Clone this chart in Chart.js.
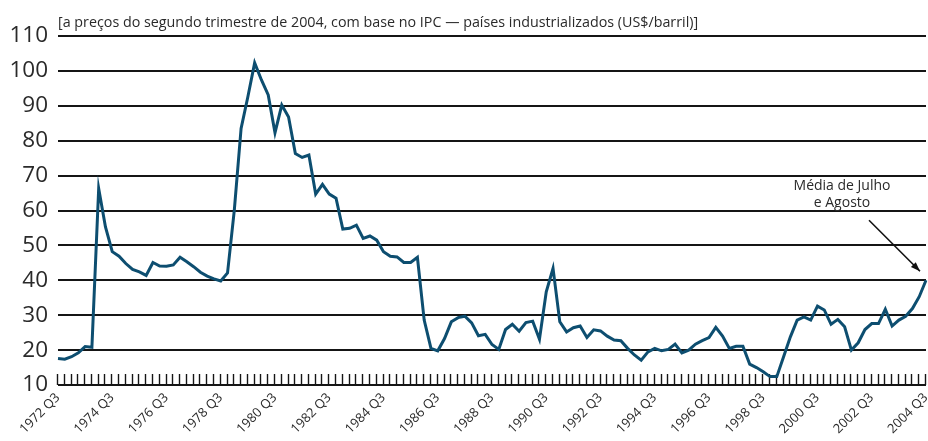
<!DOCTYPE html>
<html>
<head>
<meta charset="utf-8">
<script src="https://cdn.jsdelivr.net/npm/chart.js@4"></script>
<style>
    body { margin: 0; background: #fff; }
    #wrap { width: 928px; height: 441px; }
</style>
</head>
<body>
<div id="wrap"><canvas id="chart1" width="928" height="441"></canvas></div>
<script>
const startYear = 1972;
const endYear = 2004;
const labelEvery = 8;
const titleText = '[a preços do segundo trimestre de 2004, com base no IPC \u2014 países industrializados (US$/barril)]';
const noteLines = ['Média de Julho', 'e Agosto'];
const yTicks = [10, 20, 30, 40, 50, 60, 70, 80, 90, 100, 110];

// quarters 1972 Q3 .. 2004 Q3
const quarters = [];
for (let y = startYear; y <= endYear; y++) {
    for (let q = 1; q <= 4; q++) {
        if (y === startYear && q < 3) continue;
        if (y === endYear && q > 3) continue;
        quarters.push(y + ' Q' + q);
    }
}

const oilPrice = [
    17.6, 17.4, 18.1, 19.2, 21.0, 20.8, 66.3, 55.3, 48.2, 46.9,
    44.8, 43.1, 42.4, 41.4, 45.1, 44.1, 44.0, 44.4, 46.6, 45.3,
    43.9, 42.3, 41.2, 40.4, 39.8, 42.1, 60.1, 83.5, 92.6, 102.3,
    97.4, 93.1, 82.3, 90.2, 86.8, 76.3, 75.2, 75.9, 64.7, 67.5,
    64.7, 63.5, 54.7, 54.9, 55.8, 52.0, 52.7, 51.5, 48.2, 46.9,
    46.7, 45.1, 45.1, 46.6, 28.6, 20.5, 19.8, 23.3, 28.1, 29.3,
    29.7, 27.8, 24.1, 24.5, 21.6, 20.2, 25.9, 27.4, 25.4, 27.9,
    28.3, 23.1, 36.7, 43.4, 28.1, 25.2, 26.4, 26.9, 23.6, 25.8,
    25.5, 24.0, 22.9, 22.7, 20.5, 18.6, 17.1, 19.5, 20.5, 19.8,
    20.2, 21.7, 19.2, 20.0, 21.7, 22.7, 23.6, 26.5, 24.0, 20.5,
    21.1, 21.1, 16.0, 15.0, 13.8, 12.4, 12.4, 18.1, 23.8, 28.6,
    29.5, 28.6, 32.6, 31.5, 27.4, 28.8, 26.7, 20.0, 22.1, 25.9,
    27.6, 27.6, 31.7, 26.9, 28.6, 29.7, 31.9, 35.3, 40.0
];

const lineColor = '#0d4e70';
const gridColor = '#151515';
const textColor = '#2a2a2a';
const fontFamily = '"Open Sans", "Liberation Sans", sans-serif';

const extrasPlugin = {
    id: 'extras',
    beforeDatasetsDraw(chart) {
        const ctx = chart.ctx;
        const x = chart.scales.x;
        const area = chart.chartArea;
        ctx.save();
        ctx.strokeStyle = gridColor;
        ctx.lineWidth = 1.4;
        quarters.forEach((q, i) => {
            const px = Math.round(x.getPixelForValue(i)) - 0.5;
            ctx.beginPath();
            ctx.moveTo(px, area.bottom - 11);
            ctx.lineTo(px, area.bottom);
            ctx.stroke();
        });
        ctx.restore();
    },
    afterDraw(chart) {
        const ctx = chart.ctx;
        const area = chart.chartArea;
        ctx.save();
        ctx.fillStyle = textColor;
        ctx.font = '14.3px ' + fontFamily;
        ctx.textBaseline = 'alphabetic';
        ctx.textAlign = 'left';
        ctx.fillText(titleText, area.left, area.top - 9);

        // annotation pointing at the last point
        const meta = chart.getDatasetMeta(0);
        const last = meta.data[meta.data.length - 1];
        const x0 = last.x - 57, y0 = last.y - 60;
        const x1 = last.x - 6, y1 = last.y - 9;
        ctx.font = '14px ' + fontFamily;
        ctx.textAlign = 'center';
        ctx.fillText(noteLines[0], last.x - 84, last.y - 90);
        ctx.fillText(noteLines[1], last.x - 84, last.y - 73);
        ctx.strokeStyle = '#111';
        ctx.fillStyle = '#111';
        ctx.lineWidth = 1.6;
        ctx.beginPath();
        ctx.moveTo(x0, y0);
        ctx.lineTo(x1, y1);
        ctx.stroke();
        const ang = Math.atan2(y1 - y0, x1 - x0);
        ctx.beginPath();
        ctx.moveTo(x1, y1);
        ctx.lineTo(x1 - 10 * Math.cos(ang - 0.35), y1 - 10 * Math.sin(ang - 0.35));
        ctx.lineTo(x1 - 10 * Math.cos(ang + 0.35), y1 - 10 * Math.sin(ang + 0.35));
        ctx.closePath();
        ctx.fill();
        ctx.restore();
    }
};

const ctx = document.getElementById('chart1').getContext('2d');
new Chart(ctx, {
    type: 'line',
    data: {
        labels: quarters,
        datasets: [{
            data: oilPrice,
            borderColor: lineColor,
            borderWidth: 3,
            pointRadius: 0,
            tension: 0,
            fill: false
        }]
    },
    options: {
        responsive: false,
        animation: false,
        layout: { padding: { top: 36, right: 2, left: 0, bottom: 0 } },
        plugins: {
            legend: { display: false },
            tooltip: { enabled: false }
        },
        scales: {
            x: {
                type: 'category',
                offset: false,
                grid: { display: false, drawTicks: false },
                border: { display: false },
                afterFit(scale) {
                    scale.height = 56;
                    scale.paddingLeft = 0;
                    scale.paddingRight = 0;
                },
                ticks: {
                    autoSkip: false,
                    maxRotation: 45,
                    minRotation: 45,
                    padding: 5,
                    color: textColor,
                    font: { family: fontFamily, size: 13 },
                    callback(val, i) {
                        return i % labelEvery === 0 ? quarters[i] : '';
                    }
                }
            },
            y: {
                min: yTicks[0],
                max: yTicks[yTicks.length - 1],
                afterFit(scale) { scale.width = 58; },
                afterBuildTicks(scale) {
                    scale.ticks = yTicks.map(v => ({ value: v }));
                },
                grid: {
                    color: gridColor,
                    lineWidth: 2,
                    drawTicks: false
                },
                border: { display: false },
                ticks: {
                    padding: 10,
                    color: textColor,
                    font: { family: fontFamily, size: 22.5 }
                }
            }
        }
    },
    plugins: [extrasPlugin]
});
</script>
</body>
</html>
